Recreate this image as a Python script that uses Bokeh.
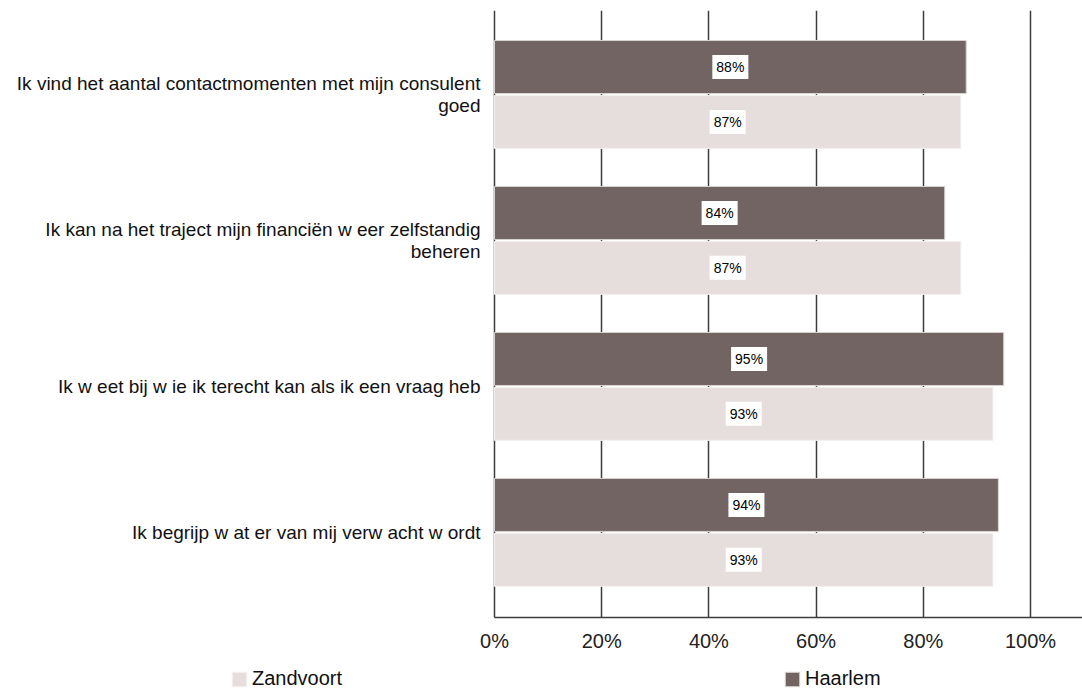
from bokeh.plotting import figure
from bokeh.models import Range1d, FixedTicker, PrintfTickFormatter, Legend, LegendItem
from bokeh.embed import file_html
from bokeh.resources import INLINE
from bokeh.core.properties import value

categories = [
    "Ik vind het aantal contactmomenten met mijn consulent\ngoed",
    "Ik kan na het traject mijn financiën w eer zelfstandig\nbeheren",
    "Ik w eet bij w ie ik terecht kan als ik een vraag heb",
    "Ik begrijp w at er van mij verw acht w ordt",
]
haarlem = [88, 84, 95, 94]
zandvoort = [87, 87, 93, 93]
x_ticks = [0, 20, 40, 60, 80, 100]
series = ["Zandvoort", "Haarlem"]

FONT = "Liberation Sans"
C_HAARLEM = "#716463"
C_ZAND = "#E6DEDD"
GRID = "#3c3c3c"

idx = list(range(len(categories)))
off = 0.188
bh = 0.363
y_h = [i - off for i in idx]
y_z = [i + off for i in idx]

Y_TOP = -0.575      # top of plotting area
Y_AXIS = 3.586      # where the value axis sits
X_MAX = 109.7

p = figure(width=1082, height=690, output_backend="svg", toolbar_location=None,
           x_range=Range1d(-92.16, X_MAX), y_range=Range1d(4.083, Y_TOP),
           min_border_left=0, min_border_right=0, min_border_top=10, min_border_bottom=0)
p.outline_line_color = None
p.background_fill_color = "white"

rh = p.hbar(y=y_h, right=haarlem, left=0, height=bh, fill_color=C_HAARLEM,
            line_color="#D8D2D1", line_width=1)
rz = p.hbar(y=y_z, right=zandvoort, left=0, height=bh, fill_color=C_ZAND,
            line_color="#F4F0F0", line_width=1)

for ys, vals in ((y_h, haarlem), (y_z, zandvoort)):
    p.text(x=[v / 2 for v in vals], y=ys, text=[f"{v}%" for v in vals],
           text_align="center", text_baseline="middle",
           text_font=value(FONT), text_font_size="14px", text_color="black",
           background_fill_color="white", padding=4)

# x axis (value axis), placed at the bottom of the bars area
xa = p.xaxis[0]
xa.fixed_location = Y_AXIS
xa.bounds = (0, X_MAX)
xa.ticker = FixedTicker(ticks=x_ticks)
xa.formatter = PrintfTickFormatter(format="%d%%")
xa.major_tick_out = 0
xa.major_tick_in = 0
xa.minor_tick_out = 0
xa.minor_tick_in = 0
xa.axis_line_color = GRID
xa.axis_line_width = 1.5
xa.major_label_standoff = 12
xa.major_label_text_font = FONT
xa.major_label_text_font_size = "20px"
xa.major_label_text_color = "#222222"

# y axis (categories), anchored at 0%
ya = p.yaxis[0]
ya.fixed_location = 0
ya.ticker = FixedTicker(ticks=idx)
ya.major_label_overrides = {i: c for i, c in zip(idx, categories)}
ya.axis_line_color = None
ya.major_tick_out = 0
ya.major_tick_in = 0
ya.minor_tick_out = 0
ya.minor_tick_in = 0
ya.major_label_standoff = 14
ya.major_label_text_font = FONT
ya.major_label_text_font_size = "19px"
ya.major_label_text_line_height = 1.05
ya.major_label_text_color = "#111111"
ya.major_label_text_align = "right"

p.xgrid.ticker = FixedTicker(ticks=x_ticks)
p.xgrid.cross_bounds = (Y_TOP, Y_AXIS)
p.xgrid.grid_line_color = GRID
p.xgrid.grid_line_width = 1.5
p.ygrid.grid_line_color = None

for label, r, loc in ((series[0], rz, (230, 0)), (series[1], rh, (783, 0))):
    lg = Legend(items=[LegendItem(label=label, renderers=[r])], location=loc,
                orientation="horizontal", padding=0, margin=0, spacing=0,
                glyph_width=18, glyph_height=18, label_height=18, label_standoff=4,
                border_line_color=None, background_fill_alpha=0,
                label_text_font=FONT, label_text_font_size="20px", label_text_color="#111111")
    p.add_layout(lg, "center")

open("out.html", "w").write(file_html(p, INLINE))
